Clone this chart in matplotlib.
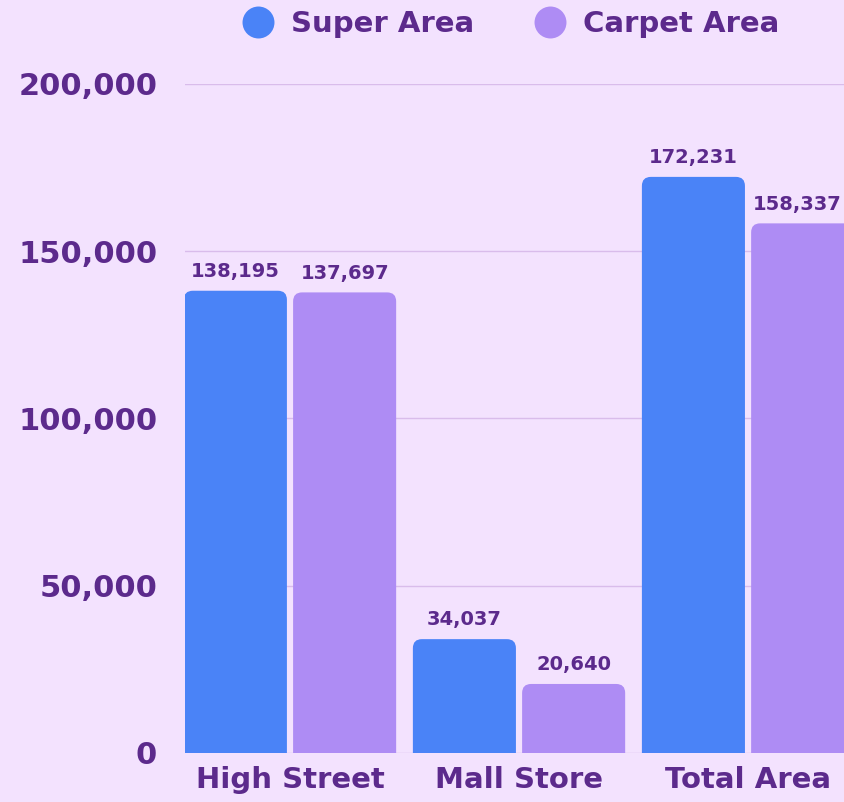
import numpy as np
import matplotlib
matplotlib.use("Agg")
import matplotlib.pyplot as plt
from matplotlib.patches import FancyBboxPatch
from matplotlib.lines import Line2D
from matplotlib.ticker import FuncFormatter

# chart data
categories = ["High Street", "Mall Store", "Total Area"]
super_area = [138195, 34037, 172231]
carpet_area = [137697, 20640, 158337]
series_names = ["Super Area", "Carpet Area"]
y_ticks = [0, 50000, 100000, 150000, 200000]

BG = "#F3E2FE"
TEXT = "#5C2A8C"
GRID = "#D9BCEB"
BLUE = "#4A83F7"
PURPLE = "#AE8CF4"

plt.rcParams["font.family"] = ["DejaVu Sans"]

fig = plt.figure(figsize=(8.44, 8.02), dpi=100, facecolor=BG)
ax = fig.add_axes([185 / 844, 49 / 802, 1 - 185 / 844, (753 - 84) / 802])
ax.set_facecolor(BG)

x = np.arange(len(categories))
width = 0.45
gap = 0.0135
bars1 = ax.bar(x - width / 2 - gap, super_area, width, color=BLUE)
bars2 = ax.bar(x + width / 2 + gap, carpet_area, width, color=PURPLE)

ax.set_xlim(-0.4585, 2.419)
ax.set_ylim(0, 200000)

# swap plain bars for rounded ones (top corners only visible)
px_x = 1 / 229.0
px_y = 200000 / 669.0
labels = []
for bars, col in [(bars1, BLUE), (bars2, PURPLE)]:
    for b in bars:
        bx, bw, bh = b.get_x(), b.get_width(), b.get_height()
        b.set_visible(False)
        p = FancyBboxPatch((bx, -20000), bw, bh + 20000,
                           boxstyle="round,pad=0,rounding_size=%f" % (9 * px_x),
                           mutation_aspect=px_y / px_x,
                           facecolor=col, edgecolor="none", zorder=3)
        ax.add_patch(p)
        labels.append(ax.annotate(f"{int(bh):,}", (bx + bw / 2, bh), xytext=(0, 7),
                                  textcoords="offset points", ha="center", va="bottom",
                                  fontsize=14, fontweight="bold", color=TEXT, zorder=4,
                                  annotation_clip=False))

ax.set_yticks(y_ticks)
ax.yaxis.set_major_formatter(FuncFormatter(lambda v, _: f"{int(v):,}"))
ax.set_xticks(x)
ax.set_xticklabels(categories)
ax.tick_params(axis="both", length=0, labelcolor=TEXT)
ax.tick_params(axis="y", pad=20, labelsize=22)
ax.tick_params(axis="x", pad=9, labelsize=21)
for lab in ax.get_xticklabels() + ax.get_yticklabels():
    lab.set_fontweight("bold")

ax.grid(axis="y", color=GRID, linewidth=1)
ax.set_axisbelow(True)
for s in ax.spines.values():
    s.set_visible(False)

handles = [Line2D([], [], marker="o", linestyle="none", markersize=23,
                  markerfacecolor=c, markeredgecolor="none") for c in (BLUE, PURPLE)]
leg = fig.legend(handles, series_names, loc="center", bbox_to_anchor=(0.605, 0.970),
                 ncol=2, frameon=False, handlelength=1.1, handletextpad=0.59,
                 columnspacing=2.05, prop={"size": 21, "weight": "bold"})
for t in leg.get_texts():
    t.set_color(TEXT)

# keep value labels inside the figure edge
fig.canvas.draw()
r = fig.canvas.get_renderer()
fig_w = fig.bbox.width
for t in labels:
    bb = t.get_window_extent(r)
    if bb.x1 > fig_w - 1:
        shift = (bb.x1 - fig_w + 2) * 72 / fig.dpi
        t.set_position((-shift, 7))

fig.savefig("out.png", dpi=100, facecolor=BG)
